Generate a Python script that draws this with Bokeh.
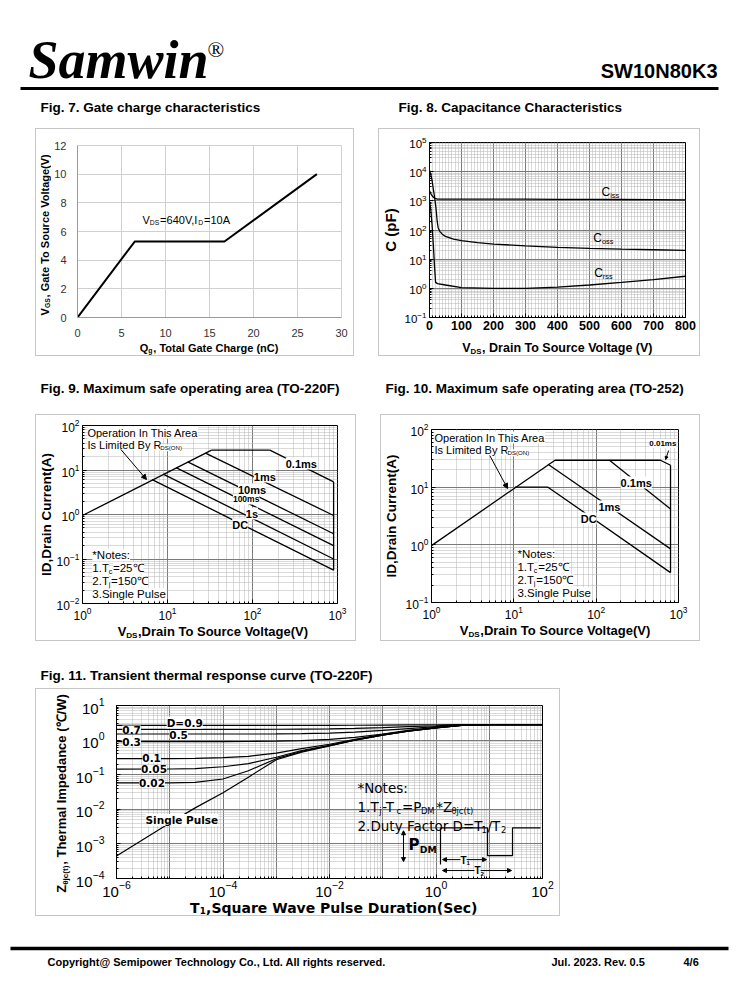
import math
import glob
from bokeh.plotting import figure
from bokeh.models import (Range1d, Label, Arrow, NormalHead, Spacer, FixedTicker,
                          SingleIntervalTicker)
from bokeh.layouts import column, row
from bokeh.embed import file_html
from bokeh.resources import INLINE

# ---------------------------------------------------------------- data
# Fig. 7 gate charge
qg_nc = [0, 6.5, 16.7, 27.2]
vgs_v = [0, 5.3, 5.3, 10.0]

# Fig. 8 capacitance
ciss_vds = [0, 5, 10, 15, 20, 25, 50, 100, 200, 300, 400, 500, 600, 700, 800]
ciss_pf = [2200, 1700, 1400, 1250, 1180, 1150, 1150, 1150, 1150, 1140, 1130, 1120, 1110, 1100, 1080]
coss_vds = [0, 4, 8, 12, 16, 20, 24, 27, 32, 40, 50, 75, 100, 150, 200, 300, 400, 500, 600, 700, 800]
coss_pf = [11000, 8000, 5000, 2500, 1300, 600, 200, 120, 90, 72, 60, 49, 43, 37, 33, 28.5, 25.5, 23.5, 22, 21, 20]
crss_vds = [0, 4, 8, 12, 16, 19, 25, 50, 100, 200, 300, 400, 500, 600, 700, 800]
crss_pf = [1000, 500, 150, 30, 5, 1.6, 1.45, 1.3, 1.05, 1.0, 1.0, 1.1, 1.3, 1.6, 2.0, 2.6]

# Fig. 9 SOA TO-220F
soa9_rds_v = [1, 33]
soa9_rds_i = [0.95, 28]
soa9_top_v = [33, 160]
soa9_top_i = [28, 28]
soa9_vmax_v = [900, 900]
soa9_vmax_i = [5.4, 0.056]
soa9_lines = {
    "0.1ms": ([160, 900], [28, 5.4]),
    "1ms": ([28, 900], [24, 0.95]),
    "10ms": ([17.3, 900], [15.2, 0.37]),
    "100ms": ([12.6, 900], [11.3, 0.2]),
    "1s": ([8.9, 900], [8.1, 0.1]),
    "DC": ([6.6, 900], [6.1, 0.056]),
}

# Fig. 10 SOA TO-252
soa10_rds_v = [1, 31.6]
soa10_rds_i = [0.97, 29.3]
soa10_lines = {
    "0.01ms": ([31.6, 603, 800], [29.3, 29.3, 24]),
    "0.1ms": ([145, 800], [29.3, 4.2]),
    "1ms": ([26, 800], [25, 0.85]),
    "DC": ([10.3, 26, 800], [10, 10, 0.33]),
}
soa10_vmax_v = [800, 800]
soa10_vmax_i = [24, 0.33]

# Fig. 11 transient thermal impedance
t1_sec = [1e-6, 1e-5, 3e-5, 1e-4, 3e-4, 1e-3, 3e-3, 1e-2, 3e-2, 1e-1, 3e-1, 1, 3, 10, 100]
zth = {
    "D=0.9": [2.65, 2.65, 2.65, 2.65, 2.65, 2.65, 2.66, 2.67, 2.69, 2.72, 2.75, 2.78, 2.8, 2.8, 2.8],
    "0.7": [2.05, 2.05, 2.05, 2.05, 2.05, 2.06, 2.08, 2.1, 2.18, 2.3, 2.45, 2.6, 2.75, 2.8, 2.8],
    "0.5": [1.5, 1.5, 1.5, 1.5, 1.5, 1.51, 1.53, 1.6, 1.7, 1.9, 2.15, 2.45, 2.72, 2.8, 2.8],
    "0.3": [0.9, 0.9, 0.9, 0.9, 0.91, 0.93, 0.97, 1.05, 1.2, 1.5, 1.9, 2.35, 2.7, 2.8, 2.8],
    "0.1": [0.29, 0.29, 0.295, 0.31, 0.34, 0.42, 0.57, 0.76, 1.06, 1.46, 1.86, 2.3, 2.67, 2.8, 2.8],
    "0.05": [0.145, 0.146, 0.15, 0.17, 0.21, 0.32, 0.5, 0.71, 1.02, 1.42, 1.82, 2.27, 2.66, 2.8, 2.8],
    "0.02": [0.058, 0.058, 0.06, 0.075, 0.13, 0.29, 0.47, 0.69, 1.0, 1.4, 1.8, 2.25, 2.65, 2.8, 2.8],
    "Single Pulse": [4.5e-4, 4e-3, 1.1e-2, 3e-2, 8.5e-2, 0.27, 0.45, 0.68, 1.0, 1.4, 1.8, 2.25, 2.65, 2.8, 2.8],
}

# ---------------------------------------------------------------- fonts / text helpers
SANS = "Liberation Sans"
SERIF = "Liberation Serif"
WIDE = "DejaVu Sans"
HAS_NARROW = bool(glob.glob("/usr/share/fonts/**/LiberationSansNarrow*", recursive=True))
NARROW = "Liberation Sans Narrow" if HAS_NARROW else SANS
NARROW_F = 0.82 if HAS_NARROW else 1.0

_REG, _BOLD = {}, {}
for chars, w in [("'", 191), ("ijl", 222), (" !,./:;I[]ft", 278), ("()-r", 333), ("*", 389),
                 ("ckszvxyJ", 500), ("0123456789abdeghnopqu$#?_L", 556), ("+<=>", 584),
                 ("FTZ", 611), ("ABEKPSVXY&", 667), ("CDHNRUw", 722), ("GOQ", 778),
                 ("mM", 833), ("%", 889), ("W", 944), ("@", 1015), ("θ", 556), ("℃", 1000)]:
    for ch in chars:
        _REG[ch] = w
for chars, w in [(" !,./Iijl", 278), ("()-:;ft", 333), ("*r", 389), ("z", 500),
                 ("0123456789acekqsvxyJ", 556), ("+<=>", 584), ("bdghnopquFLTZ", 611),
                 ("EPSVXY", 667), ("ABCDHKNRU&", 722), ("GOQw", 778), ("M", 833), ("m", 889),
                 ("W", 944), ("@", 975), ("θ", 556), ("℃", 1000)]:
    for ch in chars:
        _BOLD[ch] = w


def tw(s, size, bold=False, factor=1.0):
    tbl = _BOLD if bold else _REG
    return sum(tbl.get(ch, 600) for ch in s) * size / 1000.0 * factor


class Conv:
    """page pixel -> data coordinate inside a chart frame"""
    def __init__(self, frame, xr, yr, xlog=False, ylog=False):
        self.fl, self.ft, self.fr, self.fb = frame
        self.xr, self.yr, self.xlog, self.ylog = xr, yr, xlog, ylog

    def x(self, px):
        t = (px - self.fl) / (self.fr - self.fl)
        a, b = self.xr
        if self.xlog:
            return 10 ** (math.log10(a) + t * (math.log10(b) - math.log10(a)))
        return a + t * (b - a)

    def y(self, py):
        t = (self.fb - py) / (self.fb - self.ft)
        a, b = self.yr
        if self.ylog:
            return 10 ** (math.log10(a) + t * (math.log10(b) - math.log10(a)))
        return a + t * (b - a)


class Ident:
    def x(self, px):
        return px

    def y(self, py):
        return py


PAGE = Ident()


def rich(p, cv, px, py, parts, size, bold=False, font=SANS, align="left", vertical=False,
         color="black", bg=None, factor=1.0, sub=0.62, sub_shift=0.29):
    """parts: list of (text, kind) kind 'n' normal, 's' subscript.
    horizontal: (px = start/centre x, py = baseline y); vertical: (px = centre x, py = start/centre y)"""
    sizes = [size if k == "n" else size * sub for _, k in parts]
    gaps = [0.0 if k == "n" else 0.8 for _, k in parts]
    total = sum(tw(t, s, bold, factor) + g for (t, _), s, g in zip(parts, sizes, gaps))
    off = 0.0
    if align == "center":
        off = -total / 2
    elif align == "right":
        off = -total
    pos = off
    for (t, k), s, g in zip(parts, sizes, gaps):
        shift = 0 if k == "n" else size * sub_shift
        if vertical:
            x, y = px + shift, py - pos
        else:
            x, y = px + pos, py - 0.36 * size + shift
        p.add_layout(Label(x=cv.x(x), y=cv.y(y), text=t, text_font=font,
                           text_font_size=f"{s:.1f}px",
                           text_font_style="bold" if bold else "normal",
                           text_align="left", text_baseline="middle",
                           angle=math.pi / 2 if vertical else 0.0, text_color=color,
                           background_fill_color=bg))
        pos += tw(t, s, bold, factor) + g


def arrow(p, cv, x0, y0, x1, y1, size=5, both=False, width=1):
    p.add_layout(Arrow(x_start=cv.x(x0), y_start=cv.y(y0), x_end=cv.x(x1), y_end=cv.y(y1),
                       line_width=width, line_color="black",
                       end=NormalHead(size=size, fill_color="black", line_color="black"),
                       start=NormalHead(size=size, fill_color="black", line_color="black") if both else None))


def pane(x0, x1, y0, y1, fx0=None, fx1=None):
    """a figure whose data coords = page pixels; frame spans fx0..fx1 horizontally"""
    fx0 = x0 if fx0 is None else fx0
    fx1 = x1 if fx1 is None else fx1
    p = figure(width=x1 - x0, height=y1 - y0, x_range=Range1d(fx0, fx1), y_range=Range1d(y1, y0),
               output_backend="svg", toolbar_location=None, title=None,
               x_axis_location=None, y_axis_location=None, min_border=0,
               min_border_left=fx0 - x0, min_border_right=x1 - fx1,
               min_border_top=0, min_border_bottom=0)
    p.grid.visible = False
    p.outline_line_color = None
    p.background_fill_color = None
    p.border_fill_color = None
    return p


def group(box, frame, xr, yr, xlog=False, ylog=False, wl=0, hb=0):
    bl, bt, br, bb = box
    fl, ft, fr, fb = frame
    cl, cb = bl + wl, bb - hb
    p = figure(width=br - cl, height=cb - bt, x_range=Range1d(*xr), y_range=Range1d(*yr),
               x_axis_type="log" if xlog else "linear", y_axis_type="log" if ylog else "linear",
               output_backend="svg", toolbar_location=None, title=None,
               min_border_left=fl - cl, min_border_right=br - fr,
               min_border_top=ft - bt, min_border_bottom=cb - fb)
    p.border_fill_color = None
    left = pane(bl, cl, bt, bb) if wl else None
    bottom = pane(cl, br, cb, bb, fl, fr) if hb else None
    inner = column(p, bottom) if bottom is not None else column(p)
    lay = row(left, inner) if left is not None else inner
    lay.styles = {"box-shadow": "inset 0 0 0 1px #c6c6c6"}
    return p, Conv(frame, xr, yr, xlog, ylog), left, bottom, lay


def decades(e0, e1):
    return [10.0 ** e for e in range(e0, e1 + 1)]


def minors(e0, e1):
    return [k * 10.0 ** e for e in range(e0, e1) for k in range(2, 10)]


def log_style(p, xt, yt, xgt=None, ygt=None, font=SANS, fs="12px", xfs=None, bold_x=False):
    p.xaxis.ticker = xt
    p.yaxis.ticker = yt
    p.xgrid.ticker = xgt if xgt is not None else xt
    p.ygrid.ticker = ygt if ygt is not None else yt
    p.grid.grid_line_color = "#7a7a7a"
    p.grid.grid_line_width = 1
    p.grid.minor_grid_line_color = "#b4b4b4"
    p.grid.minor_grid_line_dash = "1 1"
    p.outline_line_color = "black"
    p.axis.axis_line_color = "black"
    p.axis.major_tick_in = 4
    p.axis.major_tick_out = 0
    p.axis.minor_tick_in = 2
    p.axis.minor_tick_out = 0
    p.axis.major_tick_line_color = "black"
    p.axis.minor_tick_line_color = "black"
    p.axis.major_label_text_font = font
    p.axis.major_label_text_font_size = fs
    p.axis.major_label_text_color = "black"
    p.axis.major_label_standoff = 3
    if xfs:
        p.xaxis.major_label_text_font_size = xfs
    if bold_x:
        p.xaxis.major_label_text_font_style = "bold"


def ylabel(p, text, size, standoff):
    p.yaxis.axis_label = text
    p.yaxis.axis_label_text_font = SANS
    p.yaxis.axis_label_text_font_size = f"{size}px"
    p.yaxis.axis_label_text_font_style = "bold"
    p.yaxis.axis_label_text_color = "black"
    p.yaxis.axis_label_standoff = standoff


def plain(p, x, y, text, size, bold=False, font=SANS, align="left", style=None):
    p.add_layout(Label(x=x, y=y - 0.36 * size, text=text, text_font=font, text_font_size=f"{size}px",
                       text_font_style=style if style else ("bold" if bold else "normal"),
                       text_align=align, text_baseline="middle", text_color="black"))


# ---------------------------------------------------------------- header
hdr = pane(0, 730, 0, 128)
plain(hdr, 28, 79, "Samwin", 54, font=SERIF, style="bold italic")
plain(hdr, 207, 57, "®", 22, font=SERIF)
plain(hdr, 717, 78, "SW10N80K3", 20, bold=True, align="right")
hdr.line(x=[20, 718], y=[88, 88], line_width=3, line_color="black")
plain(hdr, 40, 112, "Fig. 7. Gate charge characteristics", 13.5, bold=True)
plain(hdr, 398, 112, "Fig. 8. Capacitance Characteristics", 13.5, bold=True)

# ---------------------------------------------------------------- Fig 7
p7, c7, l7, b7, g7 = group((35, 128, 354, 356), (77, 145, 341, 319), (0, 30), (0, 12), wl=16, hb=17)
p7.xaxis.ticker = SingleIntervalTicker(interval=5, num_minor_ticks=0)
p7.yaxis.ticker = SingleIntervalTicker(interval=2, num_minor_ticks=0)
p7.xgrid.ticker = p7.xaxis[0].ticker
p7.ygrid.ticker = p7.yaxis[0].ticker
p7.grid.grid_line_color = "#d0d0d0"
p7.outline_line_color = "#d0d0d0"
p7.axis.axis_line_color = "#9a9a9a"
p7.axis.major_tick_line_color = None
p7.axis.minor_tick_line_color = None
p7.axis.major_label_text_font = SANS
p7.axis.major_label_text_font_size = "11px"
p7.axis.major_label_text_color = "#333333"
p7.line(qg_nc, vgs_v, line_color="black", line_width=2)
rich(b7, PAGE, 209, 351, [("Q", "n"), ("g", "s"), (", Total Gate Charge (nC)", "n")], 11, bold=True,
     align="center")
rich(l7, PAGE, 44, 232, [("V", "n"), ("GS", "s"), (",  Gate To Source Voltage(V)", "n")], 11, bold=True,
     align="center", vertical=True)
rich(p7, c7, 142, 224, [("V", "n"), ("DS", "s"), ("=640V,I", "n"), ("D", "s"), ("=10A", "n")], 11)

# ---------------------------------------------------------------- Fig 8
p8, c8, _, b8, g8 = group((378, 128, 700, 356), (428, 142, 685, 317), (0, 800), (0.1, 1e5), ylog=True, hb=17)
log_style(p8, SingleIntervalTicker(interval=100, num_minor_ticks=10),
          FixedTicker(ticks=decades(-1, 5), minor_ticks=minors(-1, 5)), fs="11.5px", xfs="12.5px",
          bold_x=True)
ylabel(p8, "C (pF)", 15, 3)
p8.line(ciss_vds, ciss_pf, line_color="black", line_width=1.3)
p8.line(coss_vds, coss_pf, line_color="black", line_width=1.3)
p8.line(crss_vds, crss_pf, line_color="black", line_width=1.3)
rich(b8, PAGE, 557, 352, [("V", "n"), ("DS", "s"), (", Drain To Source Voltage (V)", "n")], 12.5,
     bold=True, align="center")
rich(p8, c8, 610, 196, [("C", "n"), ("iss", "s")], 12, align="center")
rich(p8, c8, 603, 242, [("C", "n"), ("oss", "s")], 12, align="center")
rich(p8, c8, 603, 277, [("C", "n"), ("rss", "s")], 12, align="center")

# ---------------------------------------------------------------- strip 2
s2 = pane(0, 730, 356, 414)
plain(s2, 40, 393, "Fig. 9. Maximum safe operating area (TO-220F)", 13.5, bold=True)
plain(s2, 385, 393, "Fig. 10. Maximum safe operating area (TO-252)", 13.5, bold=True)


def soa_notes(p, cv, x, y0):
    rich(p, cv, x, y0, [("*Notes:", "n")], 11.5, bg="white")
    rich(p, cv, x, y0 + 13, [("1.T", "n"), ("c", "s"), ("=25℃", "n")], 11.5, bg="white")
    rich(p, cv, x, y0 + 26, [("2.T", "n"), ("j", "s"), ("=150℃", "n")], 11.5, bg="white")
    rich(p, cv, x, y0 + 39, [("3.Single Pulse", "n")], 11.5, bg="white")


def soa_rds(p, cv, x, y0):
    rich(p, cv, x, y0, [("Operation In This Area", "n")], 11, bg="white")
    rich(p, cv, x, y0 + 12, [("Is Limited By R", "n"), ("DS(ON)", "s")], 11, bg="white", sub=0.55)


# ---------------------------------------------------------------- Fig 9
p9, c9, _, b9, g9 = group((35, 414, 356, 641), (78, 425, 337, 603), (1, 1000), (0.01, 100),
                          xlog=True, ylog=True, hb=18)
log_style(p9, FixedTicker(ticks=decades(0, 3), minor_ticks=minors(0, 3)),
          FixedTicker(ticks=decades(-2, 2), minor_ticks=minors(-2, 2)), fs="12px")
ylabel(p9, "ID,Drain Current(A)", 13.5, 0)
p9.line(soa9_rds_v, soa9_rds_i, line_color="black", line_width=1.3)
p9.line(soa9_top_v, soa9_top_i, line_color="black", line_width=1.3)
p9.line(soa9_vmax_v, soa9_vmax_i, line_color="black", line_width=1.3)
for name, (vv, ii) in soa9_lines.items():
    p9.line(vv, ii, line_color="black", line_width=1.3)
soa_rds(p9, c9, 83, 436)
arrow(p9, c9, 117, 449, 143, 479, size=5)
soa_notes(p9, c9, 88, 559)
for txt, cx, cy, fs in [("0.1ms", 300, 467, 11), ("1ms", 263, 480, 11), ("10ms", 250, 493, 11),
                        ("100ms", 244, 502, 8.5), ("1s", 250, 517, 11), ("DC", 238, 528, 11)]:
    rich(p9, c9, cx, cy, [(txt, "n")], fs, bold=True, align="center", bg="white")
rich(b9, PAGE, 210, 636, [("V", "n"), ("DS", "s"), (",Drain To Source Voltage(V)", "n")], 13, bold=True,
     align="center")

# ---------------------------------------------------------------- Fig 10
p10, c10, _, b10, g10 = group((380, 414, 700, 641), (428, 429, 678, 602), (1, 1000), (0.1, 100),
                              xlog=True, ylog=True, hb=19)
log_style(p10, FixedTicker(ticks=decades(0, 3), minor_ticks=minors(0, 3)),
          FixedTicker(ticks=decades(-1, 2), minor_ticks=minors(-1, 2)), fs="12px")
ylabel(p10, "ID,Drain Current(A)", 13.5, 4)
p10.line(soa10_rds_v, soa10_rds_i, line_color="black", line_width=1.3)
p10.line(soa10_vmax_v, soa10_vmax_i, line_color="black", line_width=1.3)
for name, (vv, ii) in soa10_lines.items():
    p10.line(vv, ii, line_color="black", line_width=1.3)
soa_rds(p10, c10, 431, 441)
arrow(p10, c10, 487, 455, 505, 488, size=5)
soa_notes(p10, c10, 515, 558)
rich(p10, c10, 662, 446, [("0.01ms", "n")], 8, bold=True, align="center", bg="white")
arrow(p10, c10, 668, 450, 665, 459, size=3)
for txt, cx, cy in [("0.1ms", 635, 486), ("1ms", 608, 510), ("DC", 587, 522)]:
    rich(p10, c10, cx, cy, [(txt, "n")], 11, bold=True, align="center", bg="white")
rich(b10, PAGE, 553, 635, [("V", "n"), ("DS", "s"), (",Drain To Source Voltage(V)", "n")], 13, bold=True,
     align="center")

# ---------------------------------------------------------------- strip 3
s3 = pane(0, 730, 641, 688)
plain(s3, 40, 680, "Fig. 11. Transient thermal response curve (TO-220F)", 13.5, bold=True)

# ---------------------------------------------------------------- Fig 11
p11, c11, l11, b11, g11 = group((35, 688, 560, 916), (116, 705, 542, 879), (1e-6, 100), (1e-4, 10),
                                xlog=True, ylog=True, wl=37, hb=17)
log_style(p11, FixedTicker(ticks=[1e-6, 1e-4, 1e-2, 1, 100], minor_ticks=minors(-6, 2) + decades(-6, 2)),
          FixedTicker(ticks=decades(-4, 1), minor_ticks=minors(-4, 1)),
          xgt=FixedTicker(ticks=decades(-6, 2), minor_ticks=minors(-6, 2)),
          font=SANS, fs="15px")
p11.xaxis.major_label_standoff = 2
p11.yaxis.major_label_standoff = 12
for name, zz in zth.items():
    p11.line(t1_sec, zz, line_color="black", line_width=1.2)
for txt, cx, cy in [("D=0.9", 182, 726), ("0.7", 130, 733), ("0.5", 177, 738), ("0.3", 130, 745),
                    ("0.1", 150, 762), ("0.05", 152, 773), ("0.02", 150, 787),
                    ("Single Pulse", 180, 824)]:
    rich(p11, c11, cx, cy, [(txt, "n")], 10.5, bold=True, font=WIDE, factor=1.12, align="center",
         bg="white")
rich(p11, c11, 357, 793, [("*Notes:", "n")], 13.5, font=WIDE, factor=1.12)
rich(p11, c11, 357, 812, [("1.T", "n"), ("j", "s"), ("-T", "n"), ("c", "s"), ("=P", "n"), ("DM", "s"),
                          ("*Z", "n"), ("θjc(t)", "s")], 13.5, font=WIDE, factor=1.12)
rich(p11, c11, 357, 831, [("2.Duty Factor D=T", "n"), ("1", "s"), ("/T", "n"), ("2", "s")], 13.5,
     font=WIDE, factor=1.12)
rich(p11, c11, 408, 851, [("P", "n"), ("DM", "s")], 15, bold=True, font=WIDE, factor=1.12)
pulse_px = [440, 440, 487, 487, 512, 512, 540]
pulse_py = [865, 828, 828, 856, 856, 828, 828]
p11.line([c11.x(v) for v in pulse_px], [c11.y(v) for v in pulse_py], line_color="black", line_width=1.2)
p11.line([c11.x(393), c11.x(440)], [c11.y(828), c11.y(828)], line_color="#777777", line_width=1)
arrow(p11, c11, 403, 831, 403, 862, size=4, both=True)
arrow(p11, c11, 442, 860, 486, 860, size=4, both=True)
arrow(p11, c11, 442, 871, 511, 871, size=4, both=True)
rich(p11, c11, 460, 864, [("T", "n"), ("1", "s")], 10, bold=True, bg="white")
rich(p11, c11, 474, 875, [("T", "n"), ("2", "s")], 10, bold=True, bg="white")
ylab_size = 16 if HAS_NARROW else 13
rich(l11, PAGE, 61, 793, [("Z", "n"), ("θjc(t)", "s"), (", Thermal Impedance (℃/W)", "n")], ylab_size,
     bold=True, font=NARROW, factor=NARROW_F, align="center", vertical=True)
rich(b11, PAGE, 329, 912.5, [("T", "n"), ("1", "s"), (",Square Wave Pulse Duration(Sec)", "n")], 14,
     bold=True, font=WIDE, factor=1.15, align="center", sub_shift=0.18)

# ---------------------------------------------------------------- footer
ft = pane(0, 730, 916, 990)
ft.line(x=[10, 728], y=[948, 948], line_width=3.5, line_color="black")
for txt, x in [("Copyright@ Semipower Technology Co., Ltd. All rights reserved.", 47),
               ("Jul. 2023. Rev. 0.5", 551), ("4/6", 683)]:
    plain(ft, x, 965, txt, 11, bold=True)

# ---------------------------------------------------------------- layout
layout = column(
    hdr,
    row(Spacer(width=35, height=228), g7, Spacer(width=24, height=228), g8),
    s2,
    row(Spacer(width=35, height=227), g9, Spacer(width=24, height=227), g10),
    s3,
    row(Spacer(width=35, height=228), g11),
    ft,
)

open("out.html", "w").write(file_html(layout, INLINE))
